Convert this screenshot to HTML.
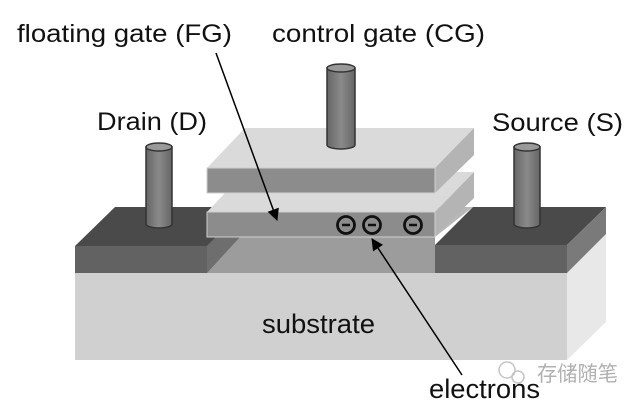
<!DOCTYPE html>
<html><head><meta charset="utf-8"><style>
html,body{margin:0;padding:0;background:#fff;}
svg{display:block}
text{font-family:"Liberation Sans","Noto Sans CJK SC",sans-serif;}
</style></head><body>
<svg width="640" height="405" viewBox="0 0 640 405">
<defs>
<marker id="ah" markerWidth="12" markerHeight="12" refX="11" refY="6" orient="auto" markerUnits="userSpaceOnUse">
<path d="M0,0 L12,6 L0,12 Z" fill="#000"/></marker>
<linearGradient id="pil" x1="0" x2="1"><stop offset="0" stop-color="#666"/><stop offset="0.5" stop-color="#8a8a8a"/><stop offset="1" stop-color="#666"/></linearGradient>
</defs>
<!-- substrate -->
<polygon points="567,273 606,234 606,322 567,360" fill="#e8e8e8"/>
<rect x="75" y="273" width="492" height="87" fill="#d0d0d0"/>
<!-- channel region -->
<polygon points="207,237 240,207 473,207 435,237" fill="#b8b8b8"/>
<rect x="207" y="237" width="228" height="36" fill="#9c9c9c"/>
<!-- drain block -->
<polygon points="207,246 240,210 240,237 207,273" fill="#6e6e6e"/>
<polygon points="75,246 115,207 245,207 207,246" fill="#4a4a4a"/>
<rect x="75" y="246" width="132" height="27" fill="#626262"/>
<!-- source block -->
<polygon points="435,245 473,207 606,207 567,245" fill="#4a4a4a"/>
<rect x="435" y="245" width="132" height="28" fill="#626262"/>
<polygon points="567,245 606,207 606,234 567,273" fill="#7a7a7a"/>
<!-- floating gate -->
<polygon points="207,212 245,172 474,172 435,212" fill="#dadada"/>
<polygon points="435,212 474,172 474,198 435,236" fill="#b4b4b4"/>
<rect x="207" y="212" width="228" height="25" fill="#8c8c8c" stroke="#cfcfcf" stroke-width="1"/>
<!-- control gate -->
<polygon points="207,168 245,128 474,128 435,168" fill="#dadada"/>
<polygon points="435,168 474,128 474,155 435,193" fill="#b4b4b4"/>
<rect x="207" y="168" width="228" height="25" fill="#8c8c8c" stroke="#cfcfcf" stroke-width="1"/>
<!-- pillars -->
<g stroke="#333" stroke-width="1.5">
<path d="M146,147 L146,224 A13,4 0 0 0 172,224 L172,147 Z" fill="url(#pil)"/>
<ellipse cx="159" cy="147" rx="13" ry="4" fill="#999"/>
<path d="M514,147 L514,224 A13,4 0 0 0 540,224 L540,147 Z" fill="url(#pil)"/>
<ellipse cx="527" cy="147" rx="13" ry="4" fill="#999"/>
<path d="M327,68 L327,145 A14,4 0 0 0 355,145 L355,68 Z" fill="url(#pil)"/>
<ellipse cx="341" cy="68" rx="14" ry="4" fill="#999"/>
</g>
<!-- electrons -->
<g stroke="#111" stroke-width="2.8" fill="none">
<circle cx="346" cy="225" r="8.5"/><circle cx="372" cy="225" r="8.5"/><circle cx="413" cy="225" r="8.5"/>
</g>
<g stroke="#111" stroke-width="2.5">
<line x1="342" y1="225" x2="350" y2="225"/><line x1="368" y1="225" x2="376" y2="225"/><line x1="409" y1="225" x2="417" y2="225"/>
</g>
<!-- arrows -->
<line x1="216" y1="53" x2="277" y2="220" stroke="#000" stroke-width="1.5" marker-end="url(#ah)"/>
<line x1="462" y1="375" x2="372" y2="239" stroke="#000" stroke-width="1.5" marker-end="url(#ah)"/>
<!-- labels -->
<g font-size="25" fill="#111">
<text x="17" y="42" textLength="215" lengthAdjust="spacingAndGlyphs">floating gate (FG)</text>
<text x="272" y="42" textLength="213" lengthAdjust="spacingAndGlyphs">control gate (CG)</text>
<text x="97" y="130" textLength="110" lengthAdjust="spacingAndGlyphs">Drain (D)</text>
<text x="492" y="131" textLength="131" lengthAdjust="spacingAndGlyphs">Source (S)</text>
</g>
<g font-size="27" fill="#111">
<text x="262" y="333" textLength="113" lengthAdjust="spacingAndGlyphs">substrate</text>
<text x="429" y="398" textLength="111" lengthAdjust="spacingAndGlyphs">electrons</text>
</g>
<text x="537" y="381" font-size="21" fill="#b0b0b0" textLength="81" lengthAdjust="spacingAndGlyphs">存储随笔</text>
<g fill="none" stroke="#c4c4c4" stroke-width="1.5"><circle cx="507" cy="370" r="8"/><circle cx="518" cy="377" r="6"/></g>
</svg>
</body></html>
